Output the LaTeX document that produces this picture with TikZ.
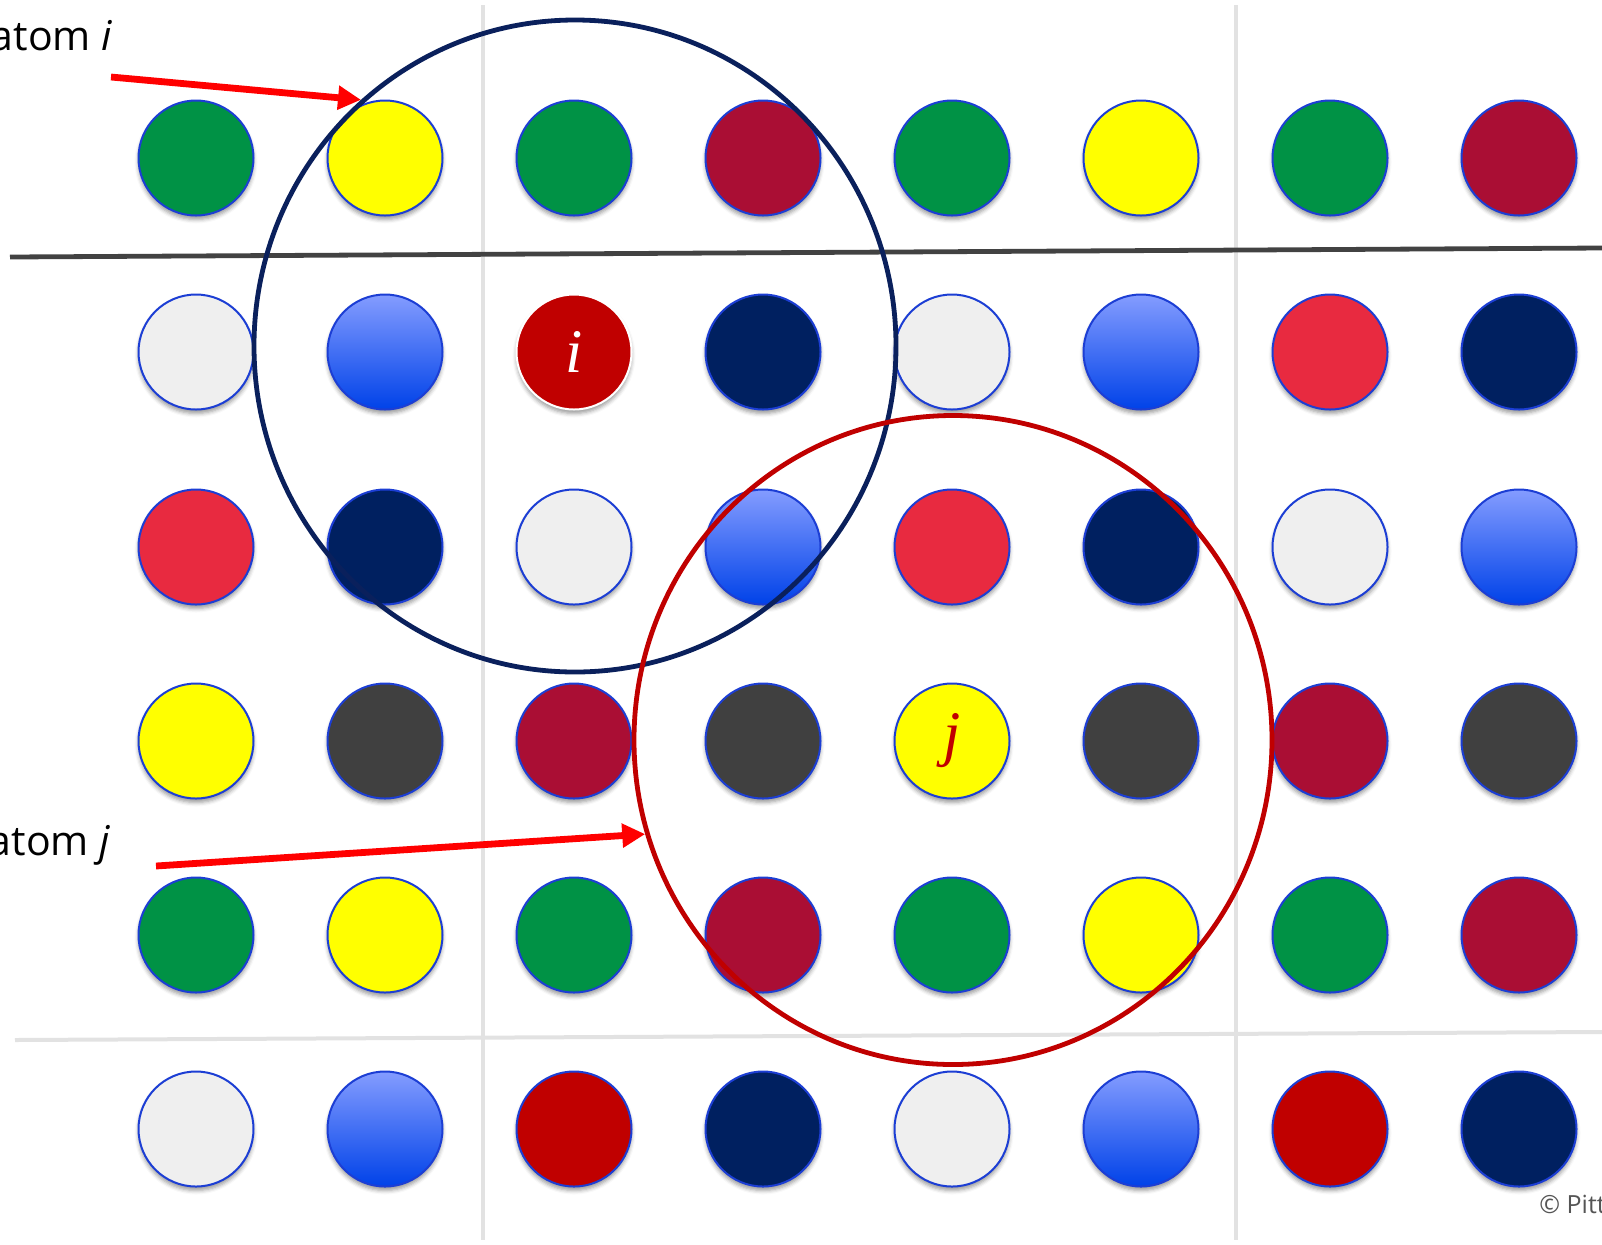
\documentclass[tikz,border=0pt]{standalone}
\usepackage{fontspec}
\setmainfont{Open Sans}
\newfontfamily\atomfont{Liberation Serif}
\usetikzlibrary{arrows.meta,shapes.geometric,shadows.blur}
\definecolor{LatGreen}{RGB}{0,146,69}
\definecolor{LatYellow}{RGB}{255,255,0}
\definecolor{LatCrimson}{RGB}{170,14,52}
\definecolor{LatPale}{RGB}{239,239,239}
\definecolor{LatBlueTop}{RGB}{132,156,255}
\definecolor{LatBlueBot}{RGB}{0,66,232}
\definecolor{LatNavy}{RGB}{0,32,96}
\definecolor{LatRed}{RGB}{232,42,64}
\definecolor{LatCharcoal}{RGB}{64,64,64}
\definecolor{LatDarkRed}{RGB}{192,0,0}
\definecolor{LatEdge}{RGB}{28,62,212}
\definecolor{LatRing}{RGB}{10,32,92}
\definecolor{LatDivider}{RGB}{66,66,66}
\definecolor{LatGrid}{RGB}{226,226,226}
\definecolor{LatCredit}{RGB}{85,85,85}
\tikzset{
  lat/atom/.style={
    circle,
    draw=LatEdge,
    line width=1pt,
    minimum size=57.5pt,
    inner sep=0pt,
    blur shadow={shadow xshift=0pt, shadow yshift=-2pt, shadow blur radius=2pt, shadow opacity=40}
  },
  lat/G/.style={lat/atom, fill=LatGreen},
  lat/Y/.style={lat/atom, fill=LatYellow},
  lat/C/.style={lat/atom, fill=LatCrimson},
  lat/P/.style={lat/atom, fill=LatPale},
  lat/B/.style={lat/atom, top color=LatBlueTop, bottom color=LatBlueBot},
  lat/N/.style={lat/atom, fill=LatNavy},
  lat/R/.style={lat/atom, fill=LatRed},
  lat/K/.style={lat/atom, fill=LatCharcoal},
  lat/D/.style={lat/atom, fill=LatDarkRed},
  lat/I/.style={lat/atom, fill=LatDarkRed, draw=white, text=white,
    font=\atomfont\itshape\fontsize{31}{31}\selectfont},
  lat/J/.style={lat/atom, fill=LatYellow, text=LatDarkRed,
    font=\atomfont\itshape\fontsize{31}{31}\selectfont},
  lat/ring/.style={ellipse, line width=2.4pt, inner sep=0pt, fill=none},
  lat/arrow/.style={-{Triangle[length=11.5pt,width=11.5pt]}, line width=3.4pt, draw=red},
  lat/divider/.style={line width=2.4pt, draw=LatDivider},
  lat/gridline/.style={line width=2pt, draw=LatGrid},
  lat/label/.style={font=\fontsize{20.5}{24}\selectfont, text=black, inner sep=0pt},
  lat/credit/.style={font=\fontsize{12.5}{15}\selectfont, text=LatCredit, inner sep=0pt}
}
\begin{document}
\begin{tikzpicture}[x=0.5pt,y=-0.5pt]
  \useasboundingbox (0,0) rectangle (1602,1244);
  % cell boundaries
  \draw[lat/gridline] (483,5) -- (483,1240);
  \draw[lat/gridline] (1236,5) -- (1236,1240);
  \draw[lat/gridline] (15,1040) -- (1602,1032);
  \draw[lat/divider] (10,257) -- (1602,248);
  % lattice
  \foreach \c [count=\k] in {G,Y,G,C,G,Y,G,C}
    \node[lat/\c] (a-1-\k) at ({196+189*(\k-1)},158) {};
  \foreach \c/\t [count=\k] in {P/{},B/{},I/i,N/{},P/{},B/{},R/{},N/{}}
    \node[lat/\c] (a-2-\k) at ({196+189*(\k-1)},352) {\t};
  \foreach \c [count=\k] in {R,N,P,B,R,N,P,B}
    \node[lat/\c] (a-3-\k) at ({196+189*(\k-1)},547) {};
  \foreach \c/\t [count=\k] in {Y/{},K/{},C/{},K/{},J/j,K/{},C/{},K/{}}
    \node[lat/\c] (a-4-\k) at ({196+189*(\k-1)},741) {\t};
  \foreach \c [count=\k] in {G,Y,G,C,G,Y,G,C}
    \node[lat/\c] (a-5-\k) at ({196+189*(\k-1)},935) {};
  \foreach \c [count=\k] in {P,B,D,N,P,B,D,N}
    \node[lat/\c] (a-6-\k) at ({196+189*(\k-1)},1129) {};
  % cutoff spheres
  \node[lat/ring, draw=LatRing, minimum width=321pt, minimum height=326pt] (ringi) at (575,346) {};
  \node[lat/ring, draw=LatDarkRed, minimum width=319pt, minimum height=324.5pt] (ringj) at (953,740) {};
  % labels
  \node[lat/label, anchor=base east] (lbli) at (113,50) {atom \textit{i}};
  \node[lat/label, anchor=base east] (lblj) at (111,855) {atom \textit{j}};
  \coordinate (taili) at (111,77);
  \coordinate (tailj) at (156,866);
  \draw[lat/arrow] (taili) -- (ringi.131);
  \draw[lat/arrow] (tailj) -- (ringj.197);
  \node[lat/credit, anchor=base west] (credit) at (1539,1213) {© Pitt};
\end{tikzpicture}
\end{document}
